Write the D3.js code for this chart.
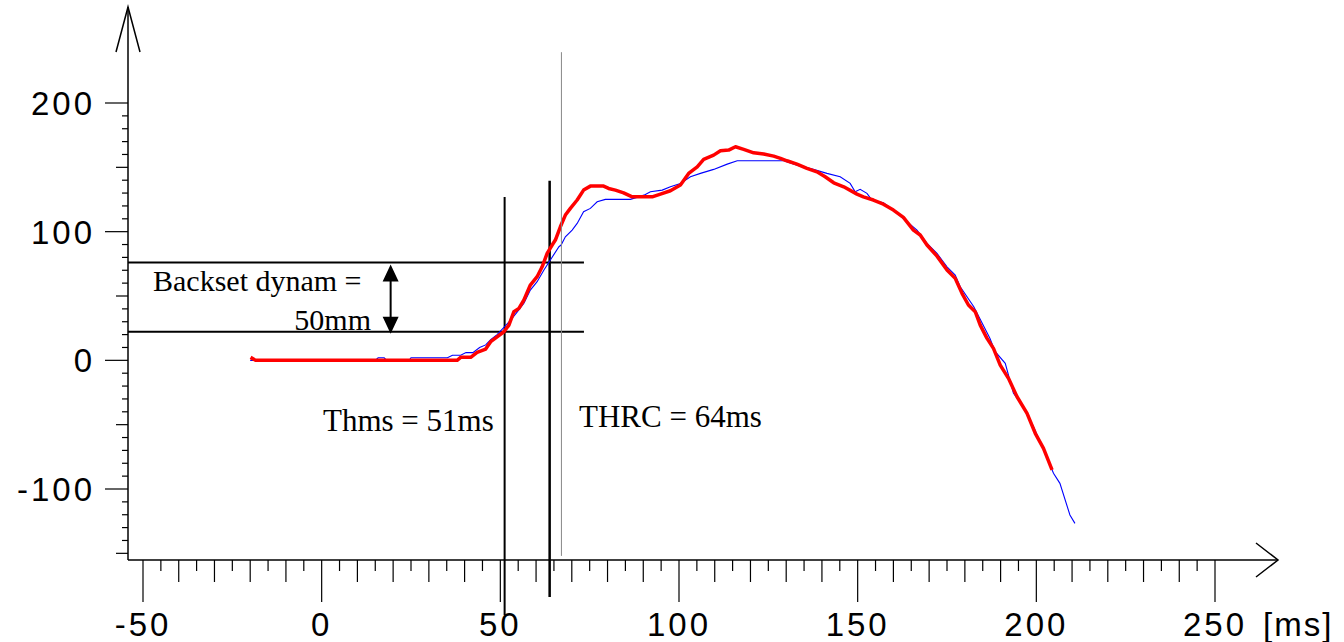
<!DOCTYPE html>
<html>
<head>
<meta charset="utf-8">
<script src="https://cdn.jsdelivr.net/npm/d3@7"></script>
<style>
  body { margin: 0; background: #fff; }
  svg { display: block; }
</style>
</head>
<body>
<svg id="viz"></svg>
<script>
// data: time [ms] vs displacement [mm]
const redCurve = [[-19.9,2.3],[-18.5,0],[37.9,0],[38.9,2.3],[41.7,2.3],[43.5,6.2],[45.9,8.8],[47.3,14.5],[49.1,18.3],[51,22.2],[52.4,27.4],[53.8,37.8],[55.2,40.4],[56.6,46.9],[58.4,58.5],[60.3,65],[61.7,72.7],[63.1,83.1],[64.5,89.6],[65.4,93.5],[66.8,103.8],[68.2,112.9],[69.6,118.1],[71.5,124.6],[73.3,132.3],[75.2,135.4],[78.9,135.4],[80.3,133.6],[82.2,132.3],[84.5,130.2],[86.9,127.1],[92.5,127.1],[94.8,129.2],[97.6,131.8],[100.4,136.2],[102.7,145.3],[105.1,150.4],[106.9,156.2],[109.7,159.5],[111.6,162.9],[113.9,163.4],[115.8,166],[118.1,164],[120.9,161.3],[123.7,160.3],[126.5,158.7],[128.4,157],[130.2,155.1],[133,152.5],[135.8,149.2],[138.6,146.5],[140.9,142.7],[143.3,138],[146.1,134.9],[149.8,129.2],[151.6,127.1],[154.4,124.6],[157.2,121.4],[160,116.8],[162.8,111.1],[165.6,101.2],[167.5,97.4],[169.4,89.6],[172.2,81],[175,70.2],[177.3,63.7],[179.2,52.1],[181,43],[182.9,37.8],[184.3,27.4],[186.2,17.1],[188,9.3],[189.9,-3.7],[192.2,-14],[194.6,-28.3],[197.4,-41.2],[199.7,-56.7],[202,-68.4],[204.4,-85.2]];

const blueCurve = [[-20,0],[15,0],[15.8,2],[17.5,2],[18.2,0],[24.5,0],[25,2],[35.2,2],[36.6,4],[38.9,4],[40.4,6],[42.3,6],[44.2,10],[45.9,12],[47.3,16],[49.1,20],[51,25.6],[52.9,31.3],[54.8,37.8],[56.6,44.3],[58.4,54.6],[60.3,61.1],[62.2,70.2],[64,78],[66.4,88.3],[67,89.6],[68.2,96],[70.1,101.2],[71.5,106.4],[73.3,115.5],[75.2,118.1],[77.1,123.2],[79.4,125.1],[86.4,125.1],[90.2,128.4],[92,131],[95.3,132.3],[97.6,134.9],[100.4,137.5],[103.2,142.7],[106,145.3],[109.7,148.4],[113.5,152.5],[116.3,155.1],[129.3,155.1],[133,151.7],[137.6,148.4],[141.4,145.3],[145.1,142.7],[147.9,137.5],[149.3,131],[150.7,132.9],[152.6,129.8],[154,124.6],[157.2,122.5],[160,116.8],[163.8,107.7],[166.6,101.2],[169.4,90.9],[172.2,83.1],[175,72.7],[177.3,66.3],[178.7,57.2],[182.5,41.6],[187,17.1],[188.5,6.7],[191.3,-2.3],[193.6,-25.6],[196.4,-36],[199.2,-51.6],[202.5,-72.3],[204.8,-87.8],[206.6,-95.6],[209.4,-120.2],[210.8,-126.7]];

const xTickLabels = [-50, 0, 50, 100, 150, 200, 250];
const yTickLabels = [-100, 0, 100, 200];
const xUnit = "[ms]";

// backset levels and time markers
const backsetLevels = [76, 22.2];
const thmsTime = 51.2, thrcTime = 63.8, refTime = 67.1;
const arrowTime = 19.3;

const width = window.innerWidth, height = window.innerHeight;
const svg = d3.select("#viz").attr("width", width).attr("height", height);

// scales
const x = d3.scaleLinear().domain([-50, 250]).range([143, 1215]);
const y = d3.scaleLinear().domain([-100, 200]).range([489, 103]);

const xMin = x.invert(128), xMax = x.invert(1278);
const yMin = y.invert(560), yMax = y.invert(7);

const axes = svg.append("g").attr("stroke", "#000").attr("fill", "none");

// x axis line + open arrow
axes.append("line")
  .attr("x1", x(xMin)).attr("x2", x(xMax))
  .attr("y1", y(yMin)).attr("y2", y(yMin)).attr("stroke-width", 1.5);
axes.append("path")
  .attr("d", `M${x(xMax) - 22},${y(yMin) - 17}L${x(xMax)},${y(yMin)}L${x(xMax) - 22},${y(yMin) + 17}`)
  .attr("stroke-width", 1.5);

// y axis line + open arrow
axes.append("line")
  .attr("x1", x(xMin)).attr("x2", x(xMin))
  .attr("y1", y(yMin)).attr("y2", y(yMax)).attr("stroke-width", 1.5);
axes.append("path")
  .attr("d", `M${x(xMin) - 12},${y(yMax) + 45}L${x(xMin)},${y(yMax)}L${x(xMin) + 12},${y(yMax) + 45}`)
  .attr("stroke-width", 1.5);

// x ticks every 5 ms
const xTicks = d3.range(-50, 255, 5);
axes.selectAll(".xt").data(xTicks).enter().append("line")
  .attr("x1", d => x(d)).attr("x2", d => x(d))
  .attr("y1", y(yMin))
  .attr("y2", d => y(yMin) + (d % 50 === 0 ? 42 : d % 10 === 0 ? 22 : 11))
  .attr("stroke-width", 1.2);

// y ticks every 10
const yTicks = d3.range(-150, 210, 10);
axes.selectAll(".yt").data(yTicks).enter().append("line")
  .attr("y1", d => y(d)).attr("y2", d => y(d))
  .attr("x1", x(xMin))
  .attr("x2", d => x(xMin) - (d % 100 === 0 ? 23 : d % 50 === 0 ? 12 : 6))
  .attr("stroke-width", 1.2);

const labelFont = "'Liberation Sans', Arial, sans-serif";
svg.selectAll(".xl").data(xTickLabels).enter().append("text")
  .attr("x", d => x(d)).attr("y", 636)
  .attr("text-anchor", "middle")
  .attr("font-family", labelFont).attr("font-size", 33)
  .attr("letter-spacing", 3)
  .text(d => d);
svg.append("text")
  .attr("x", 1263).attr("y", 636)
  .attr("font-family", labelFont).attr("font-size", 33)
  .attr("letter-spacing", 2)
  .text(xUnit);
svg.selectAll(".yl").data(yTickLabels).enter().append("text")
  .attr("x", 95).attr("y", d => y(d) + 12)
  .attr("text-anchor", "end")
  .attr("font-family", labelFont).attr("font-size", 33)
  .attr("letter-spacing", 3)
  .text(d => d);

// annotation lines
const ann = svg.append("g").attr("stroke", "#000");
ann.selectAll(".hl").data(backsetLevels).enter().append("line")
  .attr("x1", x(xMin)).attr("x2", x(73.4))
  .attr("y1", d => y(d)).attr("y2", d => y(d))
  .attr("stroke-width", 2);
ann.append("line")
  .attr("x1", x(thmsTime)).attr("x2", x(thmsTime))
  .attr("y1", y(127)).attr("y2", y(-198)).attr("stroke-width", 2);
ann.append("line")
  .attr("x1", x(thrcTime)).attr("x2", x(thrcTime))
  .attr("y1", y(139.5)).attr("y2", y(-184)).attr("stroke-width", 2.5);

// curves
const line = d3.line().x(d => x(d[0])).y(d => y(d[1]));
svg.append("path").datum(blueCurve)
  .attr("d", line).attr("fill", "none")
  .attr("stroke", "#0000ff").attr("stroke-width", 1.1);
svg.append("path").datum(redCurve)
  .attr("d", line).attr("fill", "none")
  .attr("stroke", "#ff0000").attr("stroke-width", 3.5)
  .attr("stroke-linejoin", "round");

// thin reference line
svg.append("line")
  .attr("x1", x(refTime)).attr("x2", x(refTime))
  .attr("y1", y(239.5)).attr("y2", y(-152))
  .attr("stroke", "#888").attr("stroke-width", 1);

// double arrow for the backset
const ax = x(arrowTime);
const yTop = y(backsetLevels[0]) + 2, yBot = y(backsetLevels[1]) + 2;
svg.append("line")
  .attr("x1", ax).attr("x2", ax)
  .attr("y1", yTop + 10).attr("y2", yBot - 10)
  .attr("stroke", "#000").attr("stroke-width", 2);
svg.append("path")
  .attr("d", `M${ax},${yTop}L${ax - 8},${yTop + 17}L${ax + 8},${yTop + 17}Z M${ax},${yBot}L${ax - 8},${yBot - 17}L${ax + 8},${yBot - 17}Z`)
  .attr("fill", "#000");

// texts
const serif = "'Liberation Serif', 'Times New Roman', serif";
svg.append("text").attr("x", 153).attr("y", 291)
  .attr("font-family", serif).attr("font-size", 30)
  .text("Backset dynam =");
svg.append("text").attr("x", 371).attr("y", 330)
  .attr("text-anchor", "end")
  .attr("font-family", serif).attr("font-size", 30)
  .text("50mm");
svg.append("text").attr("x", 323).attr("y", 431)
  .attr("font-family", serif).attr("font-size", 31)
  .text("Thms = 51ms");
svg.append("text").attr("x", 579).attr("y", 427)
  .attr("font-family", serif).attr("font-size", 31)
  .text("THRC = 64ms");
</script>
</body>
</html>
